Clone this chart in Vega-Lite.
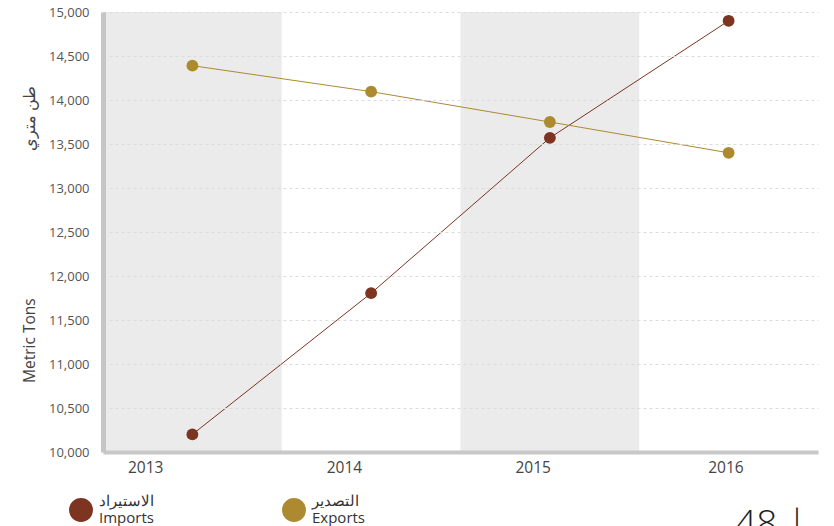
{
  "$schema": "https://vega.github.io/schema/vega-lite/v6.json",
  "width": 715,
  "height": 440,
  "autosize": "none",
  "padding": {"left": 103, "top": 12, "right": 16, "bottom": 74},
  "background": "white",
  "title": {"text": "48 |", "orient": "bottom", "anchor": "end", "fontSize": 37, "fontWeight": 300, "color": "#222", "offset": 0, "dy": -19, "dx": -11},
  "layer": [
    {
      "data": {"values": [{"year": "2013"}, {"year": "2015"}]},
      "mark": {"type": "rect", "color": "#ebebeb"},
      "encoding": {
        "x": {"field": "year", "type": "ordinal"}
      }
    },
    {
      "data": {"values": [
        {"year": "2013", "series": "Imports", "value": 10200},
        {"year": "2014", "series": "Imports", "value": 11805},
        {"year": "2015", "series": "Imports", "value": 13570},
        {"year": "2016", "series": "Imports", "value": 14900},
        {"year": "2013", "series": "Exports", "value": 14390},
        {"year": "2014", "series": "Exports", "value": 14095},
        {"year": "2015", "series": "Exports", "value": 13750},
        {"year": "2016", "series": "Exports", "value": 13400}
      ]},
      "encoding": {
        "x": {
          "field": "year",
          "type": "ordinal",
          "scale": {"type": "band", "domain": ["2013", "2014", "2015", "2016"], "paddingInner": 0, "paddingOuter": 0},
          "axis": {
            "title": null,
            "labelAngle": 0,
            "ticks": false,
            "grid": false,
            "domainColor": "#c8c8c8",
            "domainWidth": 4,
            "labelFontSize": 15.5,
            "labelColor": "#444",
            "labelPadding": 15,
            "zindex": 1,
            "labelOffset": {"condition": [{"test": "datum.value == '2013'", "value": -29}, {"test": "datum.value == '2014'", "value": -9}, {"test": "datum.value == '2015'", "value": 1}], "value": 15}
          }
        },
        "y": {
          "field": "value",
          "type": "quantitative",
          "scale": {"domain": [10000, 15000], "nice": false, "zero": false},
          "axis": {
            "title": "Metric Tons\u2003\u2003\u2003\u2003\u2003\u2003\u2003\u2003\u2003\u2002طن متري",
            "titleFontSize": 15.5,
            "titleFontWeight": "normal",
            "titleColor": "#444",
            "titleAngle": 270,
            "titleX": -74,
            "titleY": 222,
            "titleAlign": "center",
            "titleBaseline": "middle",
            "ticks": false,
            "grid": true,
            "gridDash": [3, 3],
            "gridColor": "#dcdcdc",
            "domainColor": "#c6c6c6",
            "domainWidth": 5,
            "labelFontSize": 13,
            "labelColor": "#555",
            "labelPadding": 14,
            "format": ",d",
            "values": [10000, 10500, 11000, 11500, 12000, 12500, 13000, 13500, 14000, 14500, 15000],
            "zindex": 1
          }
        },
        "color": {
          "field": "series",
          "type": "nominal",
          "scale": {"domain": ["Imports", "Exports"], "range": ["#7d3420", "#ad8a2f"]},
          "legend": {
            "orient": "none",
            "legendX": -34,
            "legendY": 486,
            "direction": "horizontal",
            "title": null,
            "padding": 0,
            "symbolType": "circle",
            "symbolSize": 570,
            "symbolStrokeWidth": 0,
            "symbolOpacity": 1,
            "labelFontSize": 15,
            "labelColor": "#333",
            "labelOffset": 6,
            "labelBaseline": "line-bottom",
            "columnPadding": 128,
            "labelExpr": "datum.label == 'Imports' ? ['الاستيراد', 'Imports'] : ['التصدير', 'Exports']"
          }
        }
      },
      "layer": [
        {"mark": {"type": "line", "strokeWidth": 1}},
        {"mark": {"type": "point", "filled": true, "opacity": 1, "size": 140}}
      ]
    }
  ],
  "config": {
    "font": "Open Sans",
    "view": {"stroke": null}
  }
}
